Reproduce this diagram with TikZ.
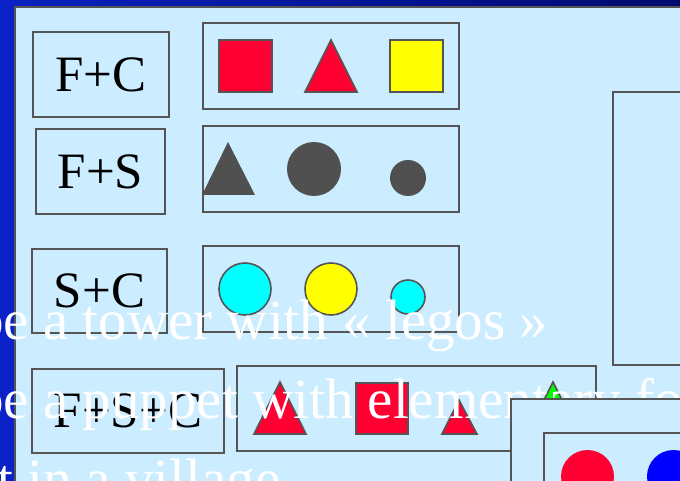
\documentclass[tikz,border=0pt]{standalone}
\usepackage{fontspec}
\setmainfont{Liberation Serif}
\definecolor{panel}{HTML}{CCECFF}
\definecolor{edge}{HTML}{555555}
\definecolor{strip}{HTML}{0A22C8}
\definecolor{topL}{HTML}{0A22C0}
\definecolor{topR}{HTML}{000A6E}
\definecolor{shred}{HTML}{FF0033}
\definecolor{shyel}{HTML}{FFFF00}
\definecolor{shcyan}{HTML}{00FFFF}
\definecolor{shgray}{HTML}{505050}
\definecolor{shgreen}{HTML}{00FF00}
\definecolor{shblue}{HTML}{0000FF}
\begin{document}
\begin{tikzpicture}[x=1pt,y=-1pt,
  bx/.style={draw=edge, line width=2pt},
  lbl/.style={bx, inner sep=0pt, font=\fontsize{51}{55}\selectfont, text=black},
  grp/.style={bx, inner sep=0pt},
  shp/.style={draw=edge, line width=1.6pt, line join=miter},
  say/.style={anchor=base west, inner sep=0pt, text=white, font=\fontsize{57}{60}\selectfont}]
\useasboundingbox (0,0) rectangle (680,481);
\clip (0,0) rectangle (680,481);
% background
\shade[left color=topL, right color=topR] (0,0) rectangle (680,7);
\fill[strip] (0,0) rectangle (15,481);
\fill[panel] (15,7) rectangle (680,481);
\draw[edge, line width=2pt] (15,482) -- (15,7) -- (681,7);
% big right box
\draw[bx] (613,92) rectangle (720,365);
% label boxes
\node[lbl, minimum width=136pt, minimum height=85pt] (fc) at (101,74.5) {F+C};
\node[lbl, minimum width=129pt, minimum height=85pt] (fs) at (100.5,171.5) {F+S};
\node[lbl, minimum width=135pt, minimum height=84pt] (sc) at (99.5,291) {S+C};
\node[lbl, minimum width=192pt, minimum height=84pt] (fsc) at (128,411) {F+S+C};
% group boxes
\node[grp, minimum width=256pt, minimum height=86pt] (g1) at (331,66) {};
\node[grp, minimum width=256pt, minimum height=86pt] (g2) at (331,169) {};
\node[grp, minimum width=256pt, minimum height=86pt] (g3) at (331,289) {};
\node[grp, minimum width=359pt, minimum height=85pt] (g4) at (416.5,408.5) {};
% shapes row 1
\filldraw[shp, fill=shred] (219,40) rectangle (272,92);
\filldraw[shp, fill=shred] (331,40) -- (357,92) -- (305,92) -- cycle;
\filldraw[shp, fill=shyel] (390,40) rectangle (443,92);
% shapes row 2
\fill[shgray] (228,142) -- (255,195) -- (202,195) -- cycle;
\fill[shgray] (314,169) circle[radius=27];
\fill[shgray] (408,178) circle[radius=18];
% shapes row 3
\filldraw[shp, fill=shcyan] (245,289) circle[radius=26];
\filldraw[shp, fill=shyel] (331,289) circle[radius=26];
\filldraw[shp, fill=shcyan] (408,297) circle[radius=17];
% shapes row 4
\filldraw[shp, fill=shred] (280,382) -- (306,434) -- (254,434) -- cycle;
\filldraw[shp, fill=shred] (356,383) rectangle (408,434);
\filldraw[shp, fill=shred] (459,400) -- (477,434) -- (442,434) -- cycle;
\filldraw[shp, fill=shgreen] (553,382) -- (579,434) -- (527,434) -- cycle;
% white text
\node[say] (t1) at (-25,339) {be a tower with « legos »};
\node[say] (t2) at (-25,418) {be a puppet with elementary forms};
\node[say] (t3) at (-3,498) {t in a village};
% bottom right box
\draw[bx, fill=panel] (511,399) rectangle (720,520);
\draw[bx] (544,433) rectangle (720,520);
\fill[shred] (587.5,476.5) circle[radius=26.5];
\fill[shblue] (673.5,476.5) circle[radius=26.5];
\end{tikzpicture}
\end{document}
